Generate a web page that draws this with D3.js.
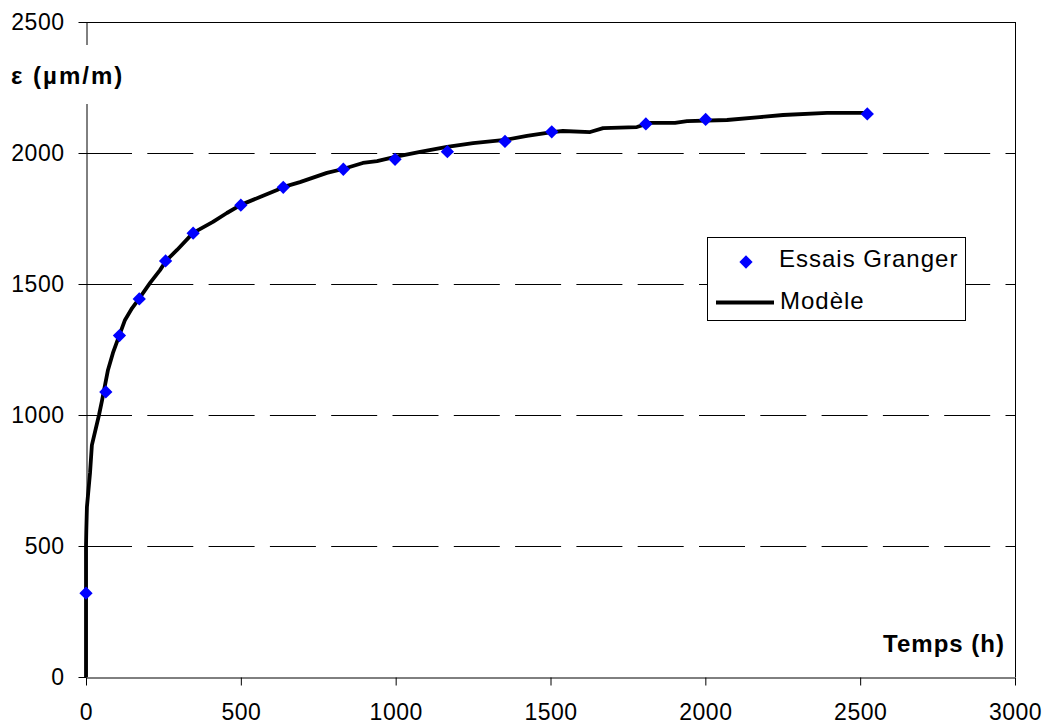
<!DOCTYPE html>
<html>
<head>
<meta charset="utf-8">
<script src="https://cdn.jsdelivr.net/npm/d3@7"></script>
<style>
  html, body { margin: 0; padding: 0; background: #fff; }
  svg { display: block; }
  text { font-family: Arial, "Liberation Sans", sans-serif; fill: #000; }
</style>
</head>
<body>
<svg id="chart" width="1047" height="727"></svg>
<script>
// ---- data ----
const xTicks = [0, 500, 1000, 1500, 2000, 2500, 3000];
const yTicks = [0, 500, 1000, 1500, 2000, 2500];
const gridValues = [500, 1000, 1500, 2000];

const essaisT   = [0, 64, 108, 172, 257, 346, 500, 637, 831, 998, 1167, 1353, 1504, 1808, 2001, 2523];
const essaisEps = [320, 1088, 1303, 1443, 1588, 1694, 1801, 1869, 1938, 1976, 2005, 2044, 2081, 2111, 2128, 2149];

const modelT   = [0, 0, 1, 3, 13, 19, 42, 52, 71, 87, 107, 126, 149, 171, 207, 239, 258, 294, 346, 410, 455, 500, 562, 617, 636, 691, 778, 830, 894, 940, 998, 1079, 1166, 1250, 1353, 1424, 1505, 1540, 1628, 1670, 1779, 1821, 1902, 1941, 2070, 2176, 2251, 2393, 2532];
const modelEps = [0, 500, 560, 649, 779, 885, 1000, 1057, 1172, 1237, 1302, 1363, 1408, 1443, 1504, 1553, 1588, 1630, 1695, 1737, 1771, 1802, 1832, 1859, 1870, 1889, 1924, 1939, 1962, 1969, 1985, 2004, 2023, 2038, 2050, 2065, 2080, 2084, 2080, 2095, 2099, 2115, 2115, 2122, 2126, 2137, 2145, 2153, 2153];

const legendLabels = ["Essais Granger", "Modèle"];
const yTitle = "ε (µm/m)";
const xTitle = "Temps (h)";

// ---- layout ----
const L = 86, R = 1015, T = 22, B = 677;
const svg = d3.select("#chart");
const x = d3.scaleLinear().domain([0, 3000]).range([L, R]);
const y = d3.scaleLinear().domain([0, 2500]).range([B, T]);

// gridlines (dashed)
svg.append("g").selectAll("line").data(gridValues).join("line")
  .attr("x1", L).attr("x2", R)
  .attr("y1", d => y(d) + 0.5).attr("y2", d => y(d) + 0.5)
  .attr("stroke", "#000").attr("stroke-width", 1)
  .attr("stroke-dasharray", "46,15.3");

// plot border top / right
svg.append("line").attr("x1", L).attr("x2", R + 0.5).attr("y1", T + 0.5).attr("y2", T + 0.5)
  .attr("stroke", "#000").attr("stroke-width", 1);
svg.append("line").attr("x1", R + 0.5).attr("x2", R + 0.5).attr("y1", T).attr("y2", B)
  .attr("stroke", "#000").attr("stroke-width", 1);

// axes
const yAxis = d3.axisLeft(y).tickValues(yTicks).tickSize(8).tickSizeOuter(0).tickPadding(14)
  .tickFormat(d3.format("d"));
const gy = svg.append("g").attr("transform", `translate(${L + 0.5},0)`).call(yAxis);
const xAxis = d3.axisBottom(x).tickValues(xTicks).tickSize(8).tickSizeOuter(0).tickPadding(18)
  .tickFormat(d3.format("d"));
const gx = svg.append("g").attr("transform", `translate(0,${B + 0.5})`).call(xAxis);
[gy, gx].forEach(g => {
  g.select(".domain").attr("stroke", "#000").attr("stroke-width", 1);
  g.selectAll(".tick line").attr("stroke", "#000").attr("stroke-width", 1);
  g.selectAll(".tick text").attr("font-family", "Arial, 'Liberation Sans', sans-serif")
    .attr("font-size", 23).attr("letter-spacing", "0.5px").attr("fill", "#000");
});

// y title with white background (covers axis)
svg.append("rect").attr("x", 6).attr("y", 45).attr("width", 126).attr("height", 59).attr("fill", "#fff");
svg.append("text").attr("x", 11).attr("y", 84)
  .attr("font-size", 24).attr("font-weight", "bold").attr("letter-spacing", "2px").text(yTitle);

// x title
svg.append("text").attr("x", 1005).attr("y", 652).attr("text-anchor", "end")
  .attr("font-size", 24).attr("font-weight", "bold").attr("letter-spacing", "1px").text(xTitle);

// model curve
const modelData = modelT.map((t, i) => [t, modelEps[i]]);
svg.append("path").datum(modelData)
  .attr("d", d3.line().x(d => x(d[0])).y(d => y(d[1])))
  .attr("fill", "none").attr("stroke", "#000").attr("stroke-width", 3.8)
  .attr("stroke-linejoin", "round");

// essais markers
const essaisData = essaisT.map((t, i) => [t, essaisEps[i]]);
const diamond = d3.symbol().type(d3.symbolSquare).size(88);
svg.append("g").selectAll("path").data(essaisData).join("path")
  .attr("d", diamond)
  .attr("transform", d => `translate(${x(d[0])},${y(d[1])}) rotate(45)`)
  .attr("fill", "#0000ff");

// legend
const lg = svg.append("g");
lg.append("rect").attr("x", 707.5).attr("y", 237.5).attr("width", 258).attr("height", 83)
  .attr("fill", "#fff").attr("stroke", "#000").attr("stroke-width", 1);
lg.append("path").attr("d", diamond)
  .attr("transform", "translate(746,262) rotate(45)").attr("fill", "#0000ff");
lg.append("line").attr("x1", 716).attr("x2", 774).attr("y1", 302.5).attr("y2", 302.5)
  .attr("stroke", "#000").attr("stroke-width", 3.8);
lg.append("text").attr("x", 779).attr("y", 267).attr("font-size", 24)
  .attr("letter-spacing", "1px").text(legendLabels[0]);
lg.append("text").attr("x", 780).attr("y", 309).attr("font-size", 24)
  .attr("letter-spacing", "1px").text(legendLabels[1]);
</script>
</body>
</html>
